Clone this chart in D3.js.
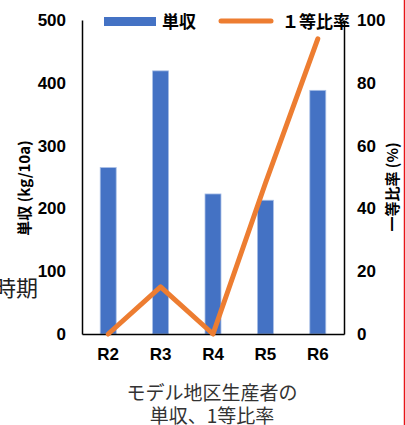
<!DOCTYPE html>
<html>
<head>
<meta charset="utf-8">
<script src="https://cdn.jsdelivr.net/npm/d3@7"></script>
<style>
  body { margin: 0; background: #fff; }
  svg { display: block; }
  text { font-family: "Liberation Sans", Arial, sans-serif; }
  .jp { font-family: "Noto Sans CJK JP", sans-serif; }
</style>
</head>
<body>
<div id="chart"></div>
<script>
// data
var years = ["R2", "R3", "R4", "R5", "R6"];
var yieldVals = [265, 419, 223, 213, 388];     // 単収 kg/10a
var gradeRatio = [0, 15, 0, 48, 94];           // １等比率 %
var leftTicks = [0, 100, 200, 300, 400, 500];
var rightTicks = [0, 20, 40, 60, 80, 100];

var W = 406, H = 425;
var plotL = 82, plotR = 344, plotT = 20, plotB = 334;

var svg = d3.select("#chart").append("svg").attr("width", W).attr("height", H);

var x = d3.scaleBand().domain(years).range([plotL, plotR])
    .paddingInner(0.695).paddingOuter(0.3475);
var yL = d3.scaleLinear().domain([0, 500]).range([plotB, plotT]);
var yR = d3.scaleLinear().domain([0, 100]).range([plotB, plotT]);

// stray text from the slide behind the chart
svg.append("text").attr("class", "jp")
    .attr("x", 38).attr("y", 296).attr("text-anchor", "end")
    .attr("font-size", 22).attr("fill", "#222")
    .text("時期");

// bars
svg.append("g").selectAll("rect")
    .data(years)
    .enter().append("rect")
    .attr("x", function (d) { return x(d); })
    .attr("y", function (d, i) { return yL(yieldVals[i]); })
    .attr("width", x.bandwidth())
    .attr("height", function (d, i) { return plotB - yL(yieldVals[i]); })
    .attr("fill", "#4472C4")
    .attr("stroke", "#a9bfe6")
    .attr("stroke-width", 0.8);

// axes (lines only, no ticks)
var axisL = d3.axisLeft(yL).tickValues(leftTicks).tickSize(0).tickPadding(16);
var axisR = d3.axisRight(yR).tickValues(rightTicks).tickSize(0).tickPadding(13);
var axisB = d3.axisBottom(x).tickSize(0).tickPadding(14);

function styleAxis(g) {
    g.select(".domain").attr("stroke", "#000").attr("stroke-width", 1.5);
    g.selectAll("text").attr("font-size", 17).attr("font-weight", "bold")
        .attr("fill", "#000").attr("font-family", "'Liberation Sans', Arial, sans-serif");
}

svg.append("g").attr("transform", "translate(" + plotL + ",0)").call(axisL).call(styleAxis);
svg.append("g").attr("transform", "translate(" + plotR + ",0)").call(axisR).call(styleAxis);
svg.append("g").attr("transform", "translate(0," + plotB + ")").call(axisB).call(styleAxis);

// ratio line
var line = d3.line()
    .x(function (d, i) { return x(years[i]) + x.bandwidth() / 2; })
    .y(function (d) { return yR(d); });

svg.append("path")
    .datum(gradeRatio)
    .attr("d", line)
    .attr("fill", "none")
    .attr("stroke", "#ED7D31")
    .attr("stroke-width", 5)
    .attr("stroke-linecap", "round")
    .attr("stroke-linejoin", "round");

// axis titles
svg.append("text").attr("class", "jp")
    .attr("transform", "translate(30,188) rotate(-90)")
    .attr("text-anchor", "middle")
    .attr("font-size", 15).attr("font-weight", "bold")
    .text("単収 (kg/10a)");

svg.append("text").attr("class", "jp")
    .attr("transform", "translate(398,187) rotate(-90)")
    .attr("text-anchor", "middle")
    .attr("font-size", 15).attr("font-weight", "bold")
    .text("一等比率 (%)");

// legend
var lg = svg.append("g");
lg.append("rect").attr("x", 104).attr("y", 17).attr("width", 52).attr("height", 9)
    .attr("fill", "#4472C4");
lg.append("text").attr("class", "jp").attr("x", 162).attr("y", 28)
    .attr("font-size", 17).attr("font-weight", "bold").text("単収");
lg.append("line").attr("x1", 221).attr("x2", 271).attr("y1", 21).attr("y2", 21)
    .attr("stroke", "#ED7D31").attr("stroke-width", 5).attr("stroke-linecap", "round");
lg.append("text").attr("class", "jp").attr("x", 282).attr("y", 28)
    .attr("font-size", 17).attr("font-weight", "bold").text("１等比率");

// caption below
svg.append("text").attr("class", "jp")
    .attr("x", 212).attr("y", 400).attr("text-anchor", "middle")
    .attr("font-size", 19).attr("fill", "#333")
    .text("モデル地区生産者の");
svg.append("text").attr("class", "jp")
    .attr("x", 212).attr("y", 423).attr("text-anchor", "middle")
    .attr("font-size", 19).attr("fill", "#333")
    .text("単収、1等比率");

// red frame edge on the right
svg.append("line").attr("x1", 404.5).attr("x2", 404.5).attr("y1", 0).attr("y2", H)
    .attr("stroke", "#e8141a").attr("stroke-width", 1.5);
</script>
</body>
</html>
